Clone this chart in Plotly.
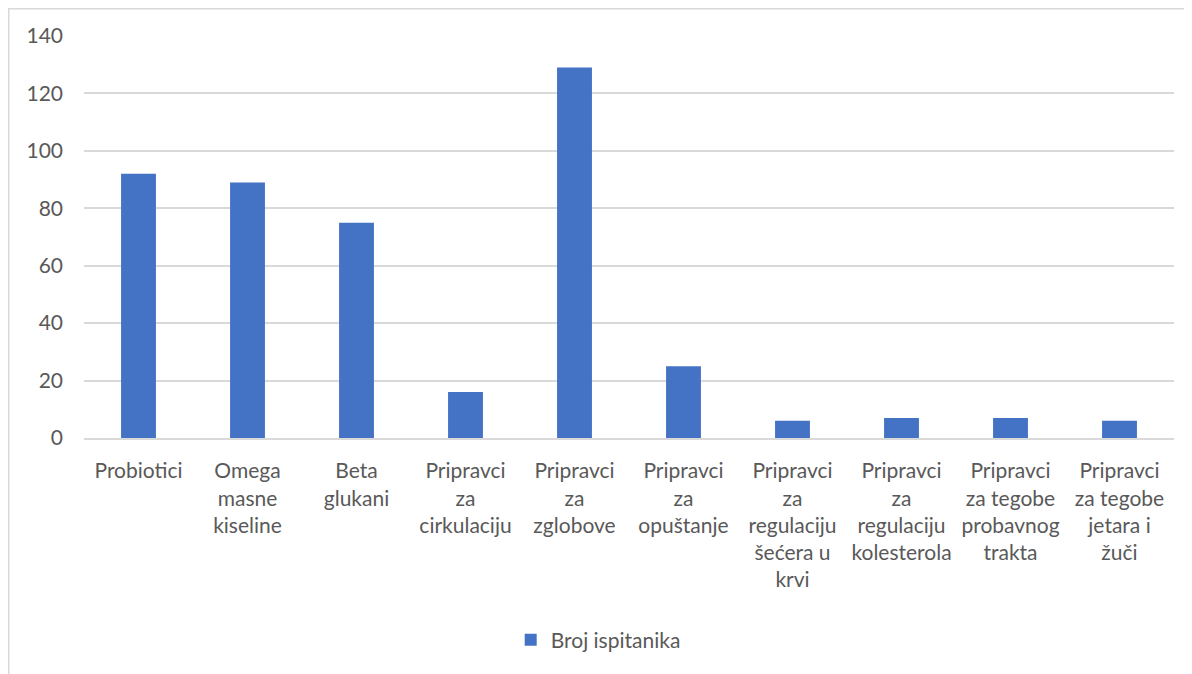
import plotly.graph_objects as go

categories = [
    "Probiotici",
    "Omega<br>masne<br>kiseline",
    "Beta<br>glukani",
    "Pripravci<br>za<br>cirkulaciju",
    "Pripravci<br>za<br>zglobove",
    "Pripravci<br>za<br>opuštanje",
    "Pripravci<br>za<br>regulaciju<br>šećera u<br>krvi",
    "Pripravci<br>za<br>regulaciju<br>kolesterola",
    "Pripravci<br>za tegobe<br>probavnog<br>trakta",
    "Pripravci<br>za tegobe<br>jetara i<br>žuči",
]
values = [92, 89, 75, 16, 129, 25, 6, 7, 7, 6]
series_name = "Broj ispitanika"
y_ticks = [0, 20, 40, 60, 80, 100, 120, 140]

FONT = "Lato"
TXT = "#595959"
FS = 21

# page has an 8px body offset; compensate in margins and size
L, T = 76, 28
PLOT_R = 1166
PLOT_B = 430
W, H = 1184, 666

fig = go.Figure()
fig.add_trace(go.Bar(
    x=categories, y=values, name=series_name,
    marker=dict(color="#4472C4", line=dict(width=0)),
    width=0.32, showlegend=True,
))

pw = PLOT_R - L
ph = PLOT_B - T
fig.update_layout(
    width=W, height=H,
    margin=dict(l=L, r=W - PLOT_R, t=T, b=H - PLOT_B),
    paper_bgcolor="white", plot_bgcolor="white",
    font=dict(family=FONT, size=FS, color=TXT),
    showlegend=True,
    legend=dict(orientation="h", x=0.48 - 9 / pw, xanchor="center",
                y=(PLOT_B - 632) / ph, yanchor="middle",
                font=dict(family=FONT, size=FS, color=TXT), itemwidth=30),
    xaxis=dict(showgrid=False, showline=True, linecolor="#D9D9D9", linewidth=2,
               ticks="", tickfont=dict(family=FONT, size=FS, color=TXT),
               ticklabelstandoff=13, tickangle=0),
    yaxis=dict(range=[0, 140], tickvals=y_ticks, showgrid=True, gridcolor="#D9D9D9",
               gridwidth=1.5, zeroline=False, showline=False, ticks="",
               tickfont=dict(family=FONT, size=FS, color=TXT), ticklabelstandoff=20),
    shapes=[dict(type="rect", xref="paper", yref="paper",
                 x0=(0.75 - L) / pw, x1=1.05, y0=-0.62, y1=(PLOT_B - 0.75) / ph,
                 line=dict(color="#D9D9D9", width=1.5), fillcolor="rgba(0,0,0,0)", layer="below")],
)

fig.write_html("out.html")
